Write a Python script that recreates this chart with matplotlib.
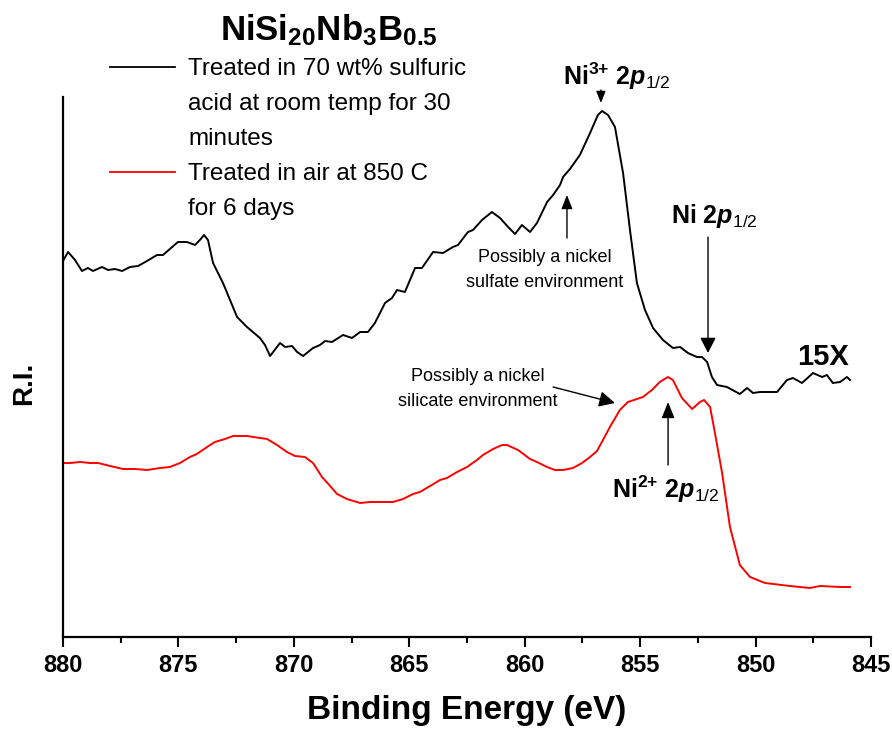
import numpy as np
import matplotlib
matplotlib.use("Agg")
import matplotlib.pyplot as plt
from matplotlib.lines import Line2D
from matplotlib.ticker import MultipleLocator

plt.rcParams["font.family"] = ["Liberation Sans", "DejaVu Sans"]
plt.rcParams["mathtext.fontset"] = "custom"
plt.rcParams["mathtext.rm"] = "Liberation Sans"
plt.rcParams["mathtext.it"] = "Liberation Sans:italic"
plt.rcParams["mathtext.bf"] = "Liberation Sans:bold"
plt.rcParams["mathtext.bfit"] = "Liberation Sans:italic:bold"

# sulfuric acid treated sample (15X), binding energy in eV / relative intensity
acid_ev = [880.00, 879.78, 879.48, 879.18, 878.92, 878.70, 878.31, 878.05, 877.75, 877.44,
           877.10, 876.75, 876.36, 875.93, 875.67, 875.37, 875.02, 874.63, 874.28, 874.07,
           873.89, 873.72, 873.50, 873.07, 872.46, 872.03, 871.47, 871.25, 871.03, 870.60,
           870.38, 870.08, 869.86, 869.60, 869.17, 868.87, 868.65, 868.35, 867.87, 867.48,
           867.13, 866.79, 866.49, 866.05, 865.75, 865.53, 865.19, 864.75, 864.45, 863.97,
           863.54, 863.11, 862.89, 862.46, 862.24, 861.85, 861.42, 861.07, 860.72, 860.42,
           860.12, 859.77, 859.47, 859.03, 858.77, 858.47, 858.34, 858.04, 857.61, 857.17,
           856.83, 856.65, 856.39, 856.09, 855.74, 855.44, 855.14, 854.79, 854.44, 854.01,
           853.58, 853.27, 852.93, 852.54, 852.32, 852.10, 851.89, 851.67, 851.24, 850.68,
           850.37, 850.11, 849.81, 849.07, 848.64, 848.38, 847.99, 847.51, 847.12, 846.91,
           846.65, 846.34, 846.04, 845.91]
acid_ri = [376, 385, 377, 366, 369, 366, 370, 367, 368, 366,
           370, 371, 376, 382, 382, 388, 395, 395, 392, 397,
           402, 397, 374, 354, 320, 310, 299, 292, 281, 294,
           290, 291, 285, 281, 289, 292, 296, 295, 302, 299,
           305, 305, 314, 334, 339, 347, 345, 369, 369, 385,
           384, 390, 392, 405, 407, 417, 425, 419, 410, 403,
           412, 405, 414, 435, 442, 452, 460, 468, 482, 504,
           522, 526, 522, 510, 464, 407, 354, 327, 309, 297,
           289, 290, 284, 280, 280, 275, 260, 252, 250, 243,
           249, 244, 245, 245, 257, 259, 254, 264, 260, 262,
           254, 255, 260, 257]

# air oxidised sample
air_ev = [880.00, 879.70, 879.26, 878.83, 878.48, 877.96, 877.40, 876.88, 876.36, 875.80,
          875.37, 874.93, 874.50, 874.20, 873.76, 873.42, 872.98, 872.64, 872.03, 871.47,
          871.16, 870.73, 870.30, 869.95, 869.52, 869.17, 868.78, 868.43, 868.13, 867.70,
          867.13, 866.70, 866.27, 865.71, 865.27, 864.84, 864.54, 864.10, 863.67, 863.37,
          862.93, 862.50, 862.07, 861.81, 861.37, 860.98, 860.77, 860.29, 859.77, 859.47,
          859.03, 858.69, 858.34, 857.91, 857.52, 857.17, 856.87, 856.61, 856.31, 855.88,
          855.53, 854.88, 854.49, 854.15, 853.80, 853.58, 853.19, 852.75, 852.41, 852.23,
          851.97, 851.76, 851.45, 851.11, 850.68, 850.24, 849.59, 848.51, 847.64, 847.21,
          846.34, 845.91]
air_ri = [174, 174, 175, 174, 174, 171, 168, 168, 167, 169,
          170, 174, 180, 183, 190, 195, 198, 201, 201, 199,
          198, 192, 185, 181, 180, 174, 160, 151, 143, 138,
          134, 135, 135, 135, 138, 143, 145, 151, 157, 159,
          165, 170, 177, 182, 188, 192, 192, 187, 178, 175,
          170, 167, 167, 169, 174, 180, 186, 197, 210, 227,
          235, 240, 247, 255, 260, 257, 239, 228, 235, 237,
          230, 204, 164, 110, 72, 60, 54, 51, 49, 51,
          50, 50]

xticks = [880, 875, 870, 865, 860, 855, 850, 845]

fig = plt.figure(figsize=(8.92, 7.29), dpi=100)
ax = fig.add_axes([63 / 892, 92 / 729, 808 / 892, 540 / 729])

ax.plot(acid_ev, acid_ri, color="black", lw=1.4, solid_joinstyle="round")
ax.plot(air_ev, air_ri, color="#ff0000", lw=1.4, solid_joinstyle="round")

ax.set_xlim(880, 845)
ax.set_ylim(0, 540)
for s in ["top", "right"]:
    ax.spines[s].set_visible(False)
for s in ["left", "bottom"]:
    ax.spines[s].set_linewidth(1.6)
ax.set_yticks([])
ax.set_xticks(xticks)
ax.xaxis.set_minor_locator(MultipleLocator(2.5))
ax.tick_params(axis="x", which="major", direction="out", length=7, width=1.5, pad=5,
               labelsize=17)
ax.tick_params(axis="x", which="minor", direction="out", length=4.5, width=1.5)
for lab in ax.get_xticklabels():
    lab.set_fontweight("bold")

ax.set_xlabel("Binding Energy (eV)", fontsize=24, fontweight="bold", labelpad=13)
ax.set_ylabel("R.I.", fontsize=20, fontweight="bold")
ax.yaxis.set_label_coords(-0.032, 0.47)

# title and hand-made legend
fig.text(220 / 892, 1 - 40 / 729, r"$\mathbf{NiSi_{20}Nb_{3}B_{0.5}}$", fontsize=25,
         ha="left", va="baseline")
fig.add_artist(Line2D([110 / 892, 175 / 892], [1 - 67 / 729] * 2, color="black", lw=1.3))
fig.add_artist(Line2D([110 / 892, 175 / 892], [1 - 172 / 729] * 2, color="#ff0000", lw=1.3))
leg_lines = ["Treated in 70 wt% sulfuric", "acid at room temp for 30", "minutes",
             "Treated in air at 850 C", "for 6 days"]
for i, t in enumerate(leg_lines):
    fig.text(188 / 892, 1 - (75 + 35 * i) / 729, t, fontsize=17.5, ha="left", va="baseline")

# peak labels
ax.text(858.34, 552, r"$\mathbf{Ni^{3{+}}\ 2}\mathbfit{p}_{\mathrm{1/2}}$",
        fontsize=18, ha="left", va="baseline")
ax.annotate("", xy=(856.70, 534), xytext=(856.70, 547), annotation_clip=False,
            arrowprops=dict(arrowstyle="-|>,head_length=0.7,head_width=0.28", color="black",
                            lw=1, mutation_scale=10, shrinkA=0, shrinkB=0))

ax.text(859.12, 367, "Possibly a nickel\nsulfate environment", fontsize=13,
        ha="center", va="center", linespacing=1.6)
ax.annotate("", xy=(858.17, 442), xytext=(858.17, 399),
            arrowprops=dict(arrowstyle="-|>,head_length=0.7,head_width=0.28", color="black",
                            lw=1, mutation_scale=12, shrinkA=0, shrinkB=0))

ax.text(853.66, 414, r"$\mathbf{Ni\ 2}\mathbfit{p}_{\mathrm{1/2}}$", fontsize=18,
        ha="left", va="baseline")
ax.annotate("", xy=(852.06, 284), xytext=(852.06, 400),
            arrowprops=dict(arrowstyle="-|>,head_length=0.47,head_width=0.24", color="black",
                            lw=1, mutation_scale=20, shrinkA=0, shrinkB=0))

ax.text(848.20, 272, "15X", fontsize=21, fontweight="bold", ha="left", va="baseline")

ax.text(862.02, 248, "Possibly a nickel\nsilicate environment", fontsize=13,
        ha="center", va="center", linespacing=1.6)
ax.annotate("", xy=(856.09, 234), xytext=(858.77, 250),
            arrowprops=dict(arrowstyle="-|>,head_length=0.6,head_width=0.3", color="black",
                            lw=1, mutation_scale=16, shrinkA=0, shrinkB=0))

ax.text(856.22, 139, r"$\mathbf{Ni^{2{+}}\ 2}\mathbfit{p}_{\mathrm{1/2}}$",
        fontsize=18, ha="left", va="baseline")
ax.annotate("", xy=(853.79, 235), xytext=(853.79, 172),
            arrowprops=dict(arrowstyle="-|>,head_length=0.7,head_width=0.28", color="black",
                            lw=1, mutation_scale=14, shrinkA=0, shrinkB=0))

fig.savefig("out.png", dpi=100)
